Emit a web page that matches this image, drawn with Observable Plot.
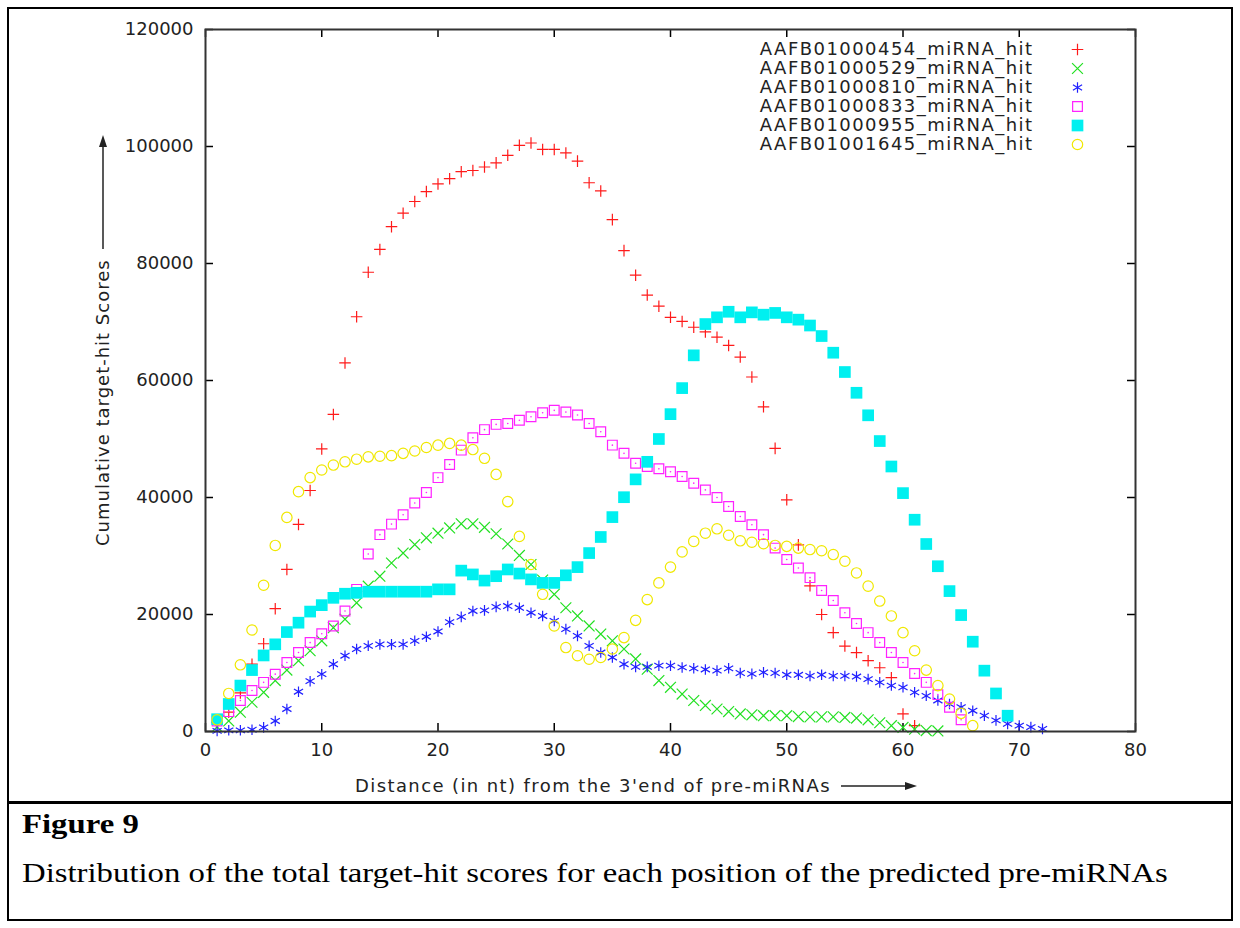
<!DOCTYPE html>
<html><head><meta charset="utf-8">
<script src="https://cdn.jsdelivr.net/npm/d3@7"></script>
<script src="https://cdn.jsdelivr.net/npm/@observablehq/plot@0.6"></script>
<style>
html,body{margin:0;padding:0;background:#fff;}
#page{position:relative;width:1240px;height:928px;overflow:hidden;font-family:"DejaVu Sans",sans-serif;}
#box{position:absolute;left:7px;top:7px;width:1226px;height:914px;border:2px solid #000;box-sizing:border-box;}
#sep{position:absolute;left:7px;top:801px;width:1226px;height:3px;background:#000;}
#chart{position:absolute;left:0;top:0;}
#legend{position:absolute;left:740px;top:37px;}
.lab{position:absolute;white-space:nowrap;font-family:"DejaVu Sans",sans-serif;font-size:18px;color:#222;letter-spacing:1.4px;line-height:20px;display:flex;align-items:center;}
#xlabel{left:355px;top:776px;}
#ylabel{left:103px;top:546px;transform-origin:0 0;transform:rotate(-90deg) translateY(-50%);letter-spacing:1px;}
.cap{position:absolute;left:22px;white-space:nowrap;font-family:"Liberation Serif","Times New Roman",serif;color:#000;line-height:1;transform-origin:0 0;transform:scaleX(1.17);}
#fig{top:810px;font-size:28px;font-weight:bold;}
#desc{top:859px;font-size:28px;}
</style></head>
<body>
<div id="page">
  <div id="chart"></div>
  <div id="legend"></div>
  <div class="lab" id="xlabel">Distance (in nt) from the 3'end of pre-miRNAs<svg width="76" height="12" style="margin-left:10px"><line x1="0" y1="6" x2="68" y2="6" stroke="#222" stroke-width="1.5"/><path d="M76,6 L64,2 L64,10 Z" fill="#222"/></svg></div>
  <div class="lab" id="ylabel">Cumulative target-hit Scores<svg width="115" height="12" style="margin-left:10px"><line x1="0" y1="6" x2="104" y2="6" stroke="#222" stroke-width="1.5"/><path d="M114,6 L102,2 L102,10 Z" fill="#222"/></svg></div>
  <div id="box"></div>
  <div id="sep"></div>
  <div class="cap" id="fig">Figure 9</div>
  <div class="cap" id="desc">Distribution of the total target-hit scores for each position of the predicted pre-miRNAs</div>
</div>
<script>
// ---- data (position n = 1, 2, 3, ... along each array) ----
const seriesNames = ["AAFB01000454_miRNA_hit","AAFB01000529_miRNA_hit","AAFB01000810_miRNA_hit","AAFB01000833_miRNA_hit","AAFB01000955_miRNA_hit","AAFB01001645_miRNA_hit"];
const xTicks = [0,10,20,30,40,50,60,70,80];
const yTicks = [0,20000,40000,60000,80000,100000,120000];

const s454 = [1500,3300,6600,11500,15000,21000,27700,35400,41200,48300,54200,63000,70900,78500,82400,86300,88600,90600,92300,93600,94500,95700,95900,96500,97200,98500,100200,100600,99500,99500,98900,97500,93800,92400,87500,82200,78000,74600,72700,70800,70100,69100,68300,67400,66000,64000,60600,55500,48400,39600,31900,24900,20000,16900,14600,13500,12100,10900,9200,3000,1000];
const s529 = [800,1800,3300,5000,6700,8700,10500,12100,13800,15500,17750,19200,22000,24850,26550,28800,30500,31950,33100,33900,34800,35500,35500,34900,33800,32050,30100,28550,25900,23450,21150,19750,18050,16650,15500,14100,12400,10650,8700,7550,6400,5300,4450,3850,3400,3000,2850,2700,2700,2700,2550,2500,2500,2500,2400,2300,2000,1500,1000,700,400,150,100];
const s810 = [100,200,200,300,700,1800,3850,6800,8600,9800,11500,12950,14100,14650,14900,14900,14900,15500,16200,17100,18700,19600,20600,20700,21300,21450,21150,20300,19750,18900,17500,16350,14650,13500,12650,11500,11050,11050,11250,11250,10950,10800,10600,10400,10800,10000,9850,10100,10000,9700,9700,9500,9700,9500,9500,9400,8950,8400,7850,7550,6700,6100,5300,4700,4150,3550,2700,1900,1300,1000,750,450];
const s833 = [1800,3400,5300,7000,8400,9800,11800,13500,15200,16700,18050,20600,24300,30350,33650,35450,37050,39050,40850,43400,45650,48100,50200,51600,52500,52650,53200,53800,54500,54900,54600,54100,52650,51250,48950,47550,45850,45300,44900,44400,43600,42450,41300,40000,38450,36750,35350,33650,31350,29400,27950,26300,24100,22400,20300,18450,16900,15200,13500,11800,9900,8400,6300,4150,2000];
const s955 = [2100,4700,7850,10500,13000,14900,17000,18600,20500,21600,22850,23550,23700,23900,23900,23900,23900,23900,23900,24300,24300,27500,26850,25800,26550,27700,27000,26000,25400,25400,26700,28100,30500,33250,36650,40050,43100,46100,50000,54250,58700,64300,69650,70800,71750,70800,71650,71250,71550,70800,70400,69400,67600,64750,61450,57900,54050,49650,45300,40750,36200,32050,28250,24000,19900,15350,10400,6500,2700];
const s1645 = [2000,6500,11400,17350,25000,31800,36600,41000,43400,44700,45550,46100,46550,46950,47050,47150,47550,47950,48550,48950,49250,48950,48200,46700,43950,39300,33350,28550,23450,18050,14350,12950,12350,12650,14100,16050,19000,22550,25400,28100,30700,32500,33900,34650,33550,32600,32350,32100,31800,31650,31350,31100,30900,30250,29100,27100,24850,22300,19750,16900,13800,10500,7850,5550,3100,1000];

const seriesValues = [s454, s529, s810, s833, s955, s1645];
const seriesColors = ["#ff1a1a", "#22e022", "#2020ff", "#ff22ff", "#00f0f0", "#f0e800"];
const seriesSymbols = ["plus", "times", "asterisk", "square2", "square", "circle"];
const seriesR = [3.8, 5, 5, 6.2, 6.6, 5.2];
const seriesFilled = [false, false, false, false, true, false];

const tables = seriesValues.map(vals => vals.map((v, i) => ({n: i + 1, v})));

function dotMark(data, k) {
  const opts = {x: "n", y: "v", symbol: seriesSymbols[k], r: seriesR[k]};
  if (seriesFilled[k]) { opts.fill = seriesColors[k]; opts.stroke = "none"; }
  else { opts.stroke = seriesColors[k]; opts.fill = "none"; opts.strokeWidth = 1.2; }
  return Plot.dot(data, opts);
}

const marks = [];
tables.forEach((t, k) => {
  marks.push(dotMark(t, k));
  if (seriesSymbols[k] === "square2") marks.push(Plot.dot(t, {x: "n", y: "v", r: 0.8, fill: seriesColors[k], stroke: "none"}));
});

const chart = Plot.plot({
  width: 1240, height: 800,
  marginLeft: 205, marginRight: 105, marginTop: 29, marginBottom: 69,
  x: {domain: [0, 80], ticks: xTicks, tickSize: 0, tickPadding: 12, label: null, tickFormat: d => String(d)},
  y: {domain: [0, 120000], ticks: yTicks, tickSize: 0, tickPadding: 12, label: null, tickFormat: d => String(d)},
  style: {fontFamily: "DejaVu Sans", fontSize: "18px", color: "#222", background: "transparent", overflow: "visible"},
  marks: [
    Plot.tickX(xTicks, {x: d => d, insetTop: 694, stroke: "#000", strokeWidth: 1.5}),
    Plot.tickX(xTicks, {x: d => d, insetBottom: 694, stroke: "#000", strokeWidth: 1.5}),
    Plot.tickY(yTicks, {y: d => d, insetRight: 922, stroke: "#000", strokeWidth: 1.5}),
    Plot.tickY(yTicks, {y: d => d, insetLeft: 922, stroke: "#000", strokeWidth: 1.5}),
    ...marks,
    Plot.frame({stroke: "#333", strokeWidth: 2})
  ]
});
document.getElementById("chart").appendChild(chart);

const legend = Plot.plot({
  width: 360, height: 119, margin: 0,
  x: {axis: null},
  y: {domain: seriesNames, type: "point", padding: 0.5, axis: null},
  style: {fontFamily: "DejaVu Sans", fontSize: "18px", color: "#222", background: "transparent", overflow: "visible", letterSpacing: "1.45px"},
  marks: [
    Plot.text(seriesNames, {y: d => d, text: d => d, frameAnchor: "right", dx: -67, textAnchor: "end", fill: "#222"}),
    ...seriesNames.map((name, k) => {
      const o = {y: d => d, frameAnchor: "right", dx: -23, symbol: seriesSymbols[k], r: seriesR[k]};
      if (seriesFilled[k]) { o.fill = seriesColors[k]; o.stroke = "none"; }
      else { o.stroke = seriesColors[k]; o.fill = "none"; o.strokeWidth = 1.2; }
      return Plot.dot([name], o);
    })
  ]
});
document.getElementById("legend").appendChild(legend);
</script>
</body></html>
